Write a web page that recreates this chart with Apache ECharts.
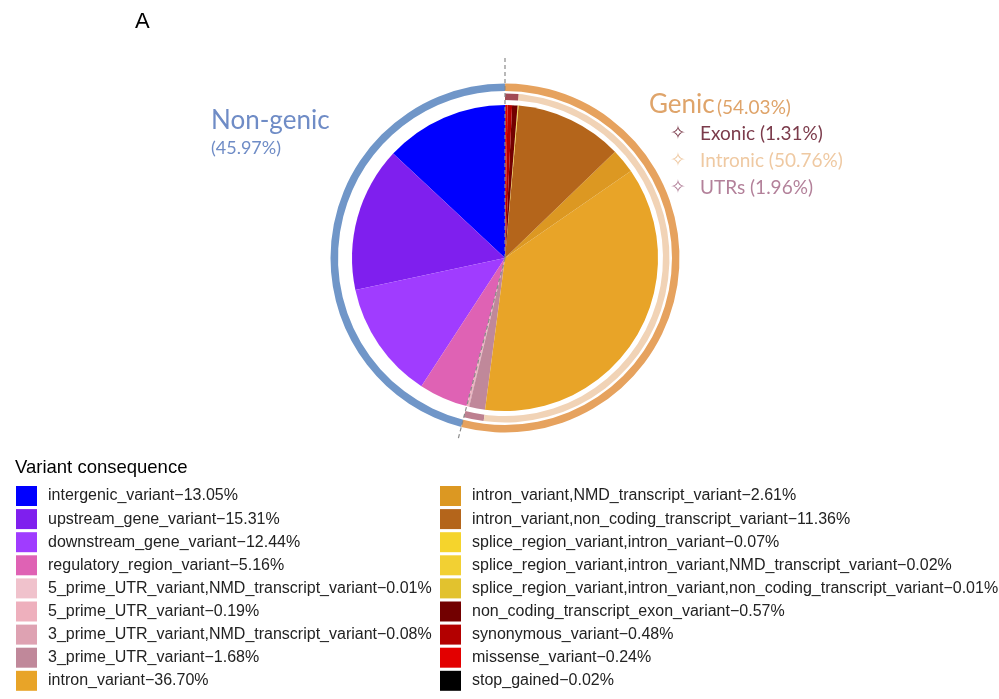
<!DOCTYPE html>
<html>
<head>
<meta charset="utf-8">
<script src="https://cdn.jsdelivr.net/npm/echarts@6/dist/echarts.min.js"></script>
<style>html,body{margin:0;padding:0;background:#fff;}#c{width:999px;height:699px;}</style>
</head>
<body>
<div id="c"></div>
<script>
// ---- data ----
const categories = [
  'intergenic_variant','upstream_gene_variant','downstream_gene_variant','regulatory_region_variant',
  '5_prime_UTR_variant,NMD_transcript_variant','5_prime_UTR_variant','3_prime_UTR_variant,NMD_transcript_variant','3_prime_UTR_variant',
  'intron_variant','intron_variant,NMD_transcript_variant','intron_variant,non_coding_transcript_variant',
  'splice_region_variant,intron_variant','splice_region_variant,intron_variant,NMD_transcript_variant',
  'splice_region_variant,intron_variant,non_coding_transcript_variant',
  'non_coding_transcript_exon_variant','synonymous_variant','missense_variant','stop_gained'
];
const values = [13.05,15.31,12.44,5.16,0.01,0.19,0.08,1.68,36.70,2.61,11.36,0.07,0.02,0.01,0.57,0.48,0.24,0.02];
const groupNames = ['Non-genic','Genic'];
const groupValues = [45.97, 54.03];
const subNames = ['Exonic','Intronic','UTRs'];
const subValues = [1.31, 50.76, 1.96];
const legendTitle = 'Variant consequence';
const panelLabel = 'A';

// ---- styles ----
const palette = ['#0000ff','#7f1fee','#a03cff','#df62b4','#f0c2cc','#eeb0bd','#dea2b2','#c0889a',
  '#e8a428','#dc9822','#b4651b','#f5d42c','#f2d033','#e2c22e','#720000','#b30000','#e30000','#000000'];
const groupColors = ['#7096c8','#e6a25e'];
const subColors = ['#a24a55','#f1d3b6','#bd8090'];
const groupTextColors = ['#6f8cc6','#dfa46a'];
const subTextColors = ['#7b3b4b','#efc9a2','#b3819a'];
const CX = 505, CY = 258, R = 153;

const pieData = categories.map((c,i)=>({name:c, value:values[i], itemStyle:{color:palette[i]}}));
const genicShare = groupValues[1] / (groupValues[0]+groupValues[1]);

// middle ring: blank over non-genic, then UTRs, Intronic, Exonic (counter-clockwise)
const midData = [
  {name:'_blank', value:groupValues[0], itemStyle:{color:'rgba(0,0,0,0)'}},
  {name:subNames[2], value:subValues[2], itemStyle:{color:subColors[2]}},
  {name:subNames[1], value:subValues[1], itemStyle:{color:subColors[1]}},
  {name:subNames[0], value:subValues[0], itemStyle:{color:subColors[0]}}
];
const outerData = groupNames.map((n,i)=>({name:n, value:groupValues[i], itemStyle:{color:groupColors[i]}}));

const fmtVal = (name) => { const i = categories.indexOf(name); return name + '\u2212' + values[i].toFixed(2) + '%'; };

const th = genicShare * 2 * Math.PI;
const chart = echarts.init(document.getElementById('c'), null, {renderer:'canvas'});
const legendCommon = {
  orient:'vertical', top:486, height:212, padding:0, itemWidth:21, itemHeight:20, itemGap:3.1, icon:'rect',
  selectedMode:false, formatter: fmtVal,
  textStyle:{fontFamily:'Liberation Sans, Arial, sans-serif', fontSize:16, color:'#222', padding:[0,0,0,6]}
};
chart.setOption({
  animation:false,
  legend:[
    Object.assign({}, legendCommon, {left:16, data:categories.slice(0,9)}),
    Object.assign({}, legendCommon, {left:440, data:categories.slice(9)})
  ],
  series:[
    {type:'pie', center:[CX,CY], radius:[0,R], startAngle:90, clockwise:false, silent:true,
     label:{show:false}, labelLine:{show:false}, itemStyle:{borderWidth:0}, data:pieData},
    {type:'pie', center:[CX,CY], radius:[158,164.5], startAngle:90, clockwise:false, silent:true,
     label:{show:false}, labelLine:{show:false}, itemStyle:{borderWidth:0}, data:midData},
    {type:'pie', center:[CX,CY], radius:[167,174.5], startAngle:90, clockwise:false, silent:true,
     label:{show:false}, labelLine:{show:false}, itemStyle:{borderWidth:0}, data:outerData}
  ],
  graphic:[
    {type:'line', z:100, shape:{x1:CX, y1:CY, x2:CX, y2:CY-203},
     style:{stroke:'#8a8a8a', lineWidth:1.2, lineDash:[4,3]}},
    {type:'line', z:100, shape:{x1:CX, y1:CY, x2:CX+188*Math.sin(th), y2:CY-188*Math.cos(th)},
     style:{stroke:'#8a8a8a', lineWidth:1.2, lineDash:[4,3]}},
    {type:'text', left:135, top:11, style:{text:panelLabel, fontFamily:'Liberation Sans, Arial', fontSize:22, fill:'#000'}},
    {type:'text', left:211, top:108, style:{text:groupNames[0], fontFamily:'Lato', fontSize:26, fill:groupTextColors[0]}},
    {type:'text', left:211, top:139, style:{text:'('+groupValues[0].toFixed(2)+'%)', fontFamily:'Lato', fontSize:18, fill:groupTextColors[0]}},
    {type:'text', left:649, top:92, style:{text:groupNames[1], fontFamily:'Lato', fontSize:26, fill:groupTextColors[1]}},
    {type:'text', left:717, top:98, style:{text:'('+groupValues[1].toFixed(2)+'%)', fontFamily:'Lato', fontSize:19, fill:groupTextColors[1]}},
    ...subNames.map((n,i)=>({type:'text', left:670, top:125+i*27,
      style:{text:'\u2727', fontFamily:'DejaVu Sans', fontSize:19, fill:subTextColors[i]}})),
    ...subNames.map((n,i)=>({type:'text', left:700, top:124+i*27,
      style:{text:n+' ('+subValues[i].toFixed(2)+'%)', fontFamily:'Lato', fontSize:19, fill:subTextColors[i]}})),
    {type:'text', left:15, top:458, style:{text:legendTitle, fontFamily:'Liberation Sans, Arial', fontSize:18.5, fill:'#000'}}
  ]
});
</script>
</body>
</html>
